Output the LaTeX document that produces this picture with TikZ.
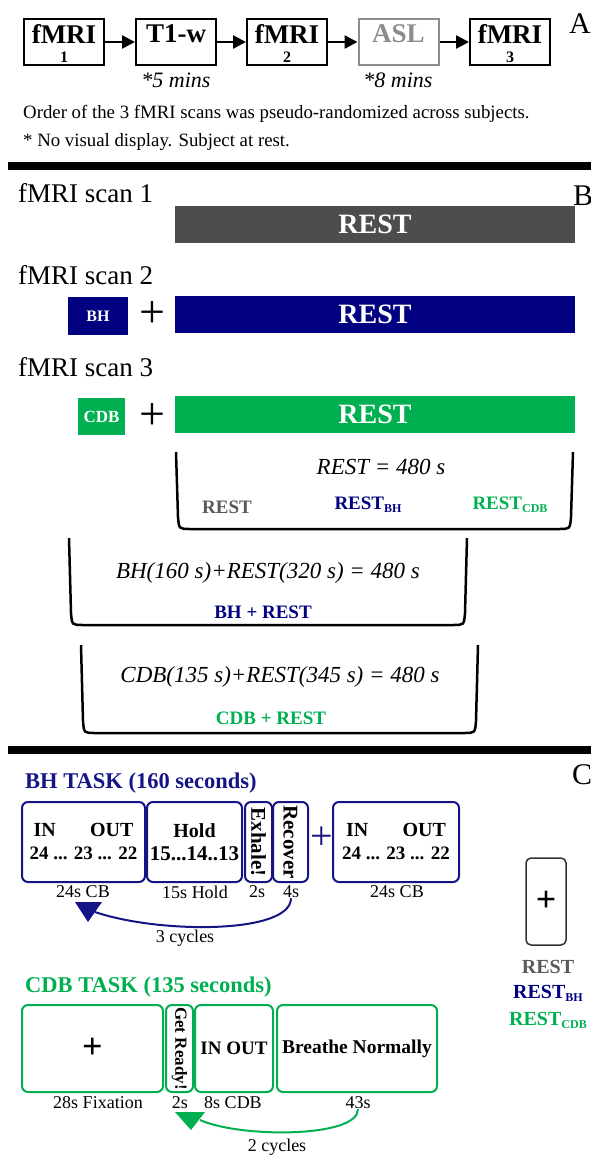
\documentclass[tikz,border=0pt]{standalone}
\usepackage{fontspec}
\setmainfont{Liberation Serif}
\usetikzlibrary{arrows.meta}

\definecolor{restgray}{RGB}{77,77,77}
\definecolor{labgray}{RGB}{89,89,89}
\definecolor{aslgray}{RGB}{140,140,140}
\definecolor{bhblue}{RGB}{0,0,128}
\definecolor{taskblue}{RGB}{20,20,135}
\definecolor{cdbgreen}{RGB}{0,176,80}

\newcommand{\fsz}[1]{\fontsize{#1}{#1}\selectfont}
\newcommand{\restsub}[1]{REST\raisebox{-3pt}{\fsz{12}#1}}

\begin{document}
\begin{tikzpicture}
      [%%%%%%%%%%%%%%%%%%%%%%%%%%%%%%
          x=1pt, y=-1pt,
          scanbox/.style={rectangle,draw=black,line width=2pt,minimum width=80pt,minimum height=46pt,inner sep=0pt},
          boxtitle/.style={font=\fsz{27}\bfseries,inner sep=0pt},
          boxnum/.style={font=\fsz{16}\bfseries,inner sep=0pt},
          flow/.style={line width=2.5pt,-{Triangle[length=13pt,width=13pt]}},
          note/.style={font=\fsz{22}\itshape,inner sep=0pt},
          plaintext/.style={font=\fsz{18.8},anchor=west,inner sep=0pt},
          sepline/.style={line width=8pt},
          panel/.style={font=\fsz{30},inner sep=0pt},
          scanlbl/.style={font=\fsz{27},anchor=west,inner sep=0pt},
          scanbar/.style={rectangle,minimum width=400pt,minimum height=37pt,inner sep=0pt,text=white,font=\fsz{28}\bfseries},
          scantag/.style={rectangle,minimum height=38pt,inner sep=0pt,text=white,font=\fsz{16}\bfseries},
          bigplus/.style={font=\fsz{46},inner sep=0pt},
          brace/.style={line width=2.5pt},
          total/.style={font=\fsz{23}\itshape,inner sep=0pt},
          keylbl/.style={font=\fsz{19}\bfseries,inner sep=0pt},
          tasktitle/.style={font=\fsz{22.5}\bfseries,anchor=west,inner sep=0pt},
          taskbox/.style={rectangle,rounded corners=6pt,line width=2pt,minimum height=80pt,inner sep=0pt,font=\fsz{20}\bfseries,align=center},
          durlbl/.style={font=\fsz{18},inner sep=0pt},
          loopline/.style={line width=2pt}
      ]%%%%%%%%%%%%%%%%%%%%%%%%%%%%%%

  \useasboundingbox (0,0) rectangle (591,1159);

  % A: scan order
  \foreach \nm/\cx/\ttl/\num/\col in {f1/64/fMRI/1/black, t1/176/T1-w//black, f2/287/fMRI/2/black, asl/398.5/ASL//aslgray, f3/510/fMRI/3/black}{
      \node[scanbox,draw=\col] (\nm) at (\cx,42) {};
      \node[boxtitle,text=\col] (\nm-t) at (\cx,34) {\ttl};
      \node[boxnum] (\nm-n) at (\cx,57) {\num};
  }
  \foreach \a/\b in {f1/t1,t1/f2,f2/asl,asl/f3}
      \draw[flow] (\a) -- (\b);

  \node[note] (t1note) at (176,80) {*5 mins};
  \node[note] (aslnote) at (398,80) {*8 mins};
  \node[plaintext] (order) at (23,114) {Order of the 3 fMRI scans was pseudo-randomized across subjects.};
  \node[plaintext] (atrest) at (23,142) {* No visual display. Subject at rest.};
  \node[panel] (pa) at (580,24) {A};
  \draw[sepline] (8,166) -- (591,166);

  % B: scans
  \node[panel] (pb) at (583,196) {B};
  \node[scanlbl] (s1) at (18,193) {fMRI scan 1};
  \node[scanlbl] (s2) at (18,275) {fMRI scan 2};
  \node[scanlbl] (s3) at (18,367) {fMRI scan 3};
  \node[scanbar,fill=restgray] (r1) at (375,224.5) {REST};
  \node[scanbar,fill=bhblue] (r2) at (375,314) {REST};
  \node[scanbar,fill=cdbgreen] (r3) at (375,414.5) {REST};
  \node[scantag,fill=bhblue,minimum width=60pt] (bh) at (98,316) {BH};
  \node[scantag,fill=cdbgreen,minimum width=47pt,minimum height=37pt,font=\fsz{17}\bfseries] (cdb) at (101.5,416.5) {CDB};
  \node[bigplus] (p2) at (152,315) {+};
  \node[bigplus] (p3) at (152,417) {+};

  \foreach \l/\r/\t/\b in {176/573/452/529, 69/467/538/625, 81/478/645/733}
      \draw[brace] (\l,\t) -- (\l+2,\b-12) .. controls (\l+3,\b) .. (\l+14,\b)
          -- (\r-14,\b) .. controls (\r-3,\b) .. (\r-2,\b-12) -- (\r,\t);

  \node[total] (tot1) at (381,467) {REST = 480 s};
  \node[keylbl,text=labgray] (k1) at (227,507) {REST};
  \node[keylbl,text=bhblue] (k2) at (368,505) {\restsub{BH}};
  \node[keylbl,text=cdbgreen] (k3) at (510,505) {\restsub{CDB}};
  \node[total] (tot2) at (268,573) {BH(160 s)+REST(320 s) = 480 s};
  \node[keylbl,text=bhblue] (k4) at (263,612) {BH + REST};
  \node[total] (tot3) at (280,677) {CDB(135 s)+REST(345 s) = 480 s};
  \node[keylbl,text=cdbgreen] (k5) at (271,718) {CDB + REST};
  \draw[sepline] (8,750) -- (591,750);

  % C: tasks
  \node[panel] (pc) at (582,775) {C};
  \node[tasktitle,text=taskblue] (bhtitle) at (25,783) {BH TASK (160 seconds)};
  \node[taskbox,draw=taskblue,minimum width=123pt] (b1) at (83.5,842) {\makebox[100pt]{IN\hfill OUT}\\[3pt]\fsz{19}24 ... 23 ... 22};
  \node[taskbox,draw=taskblue,minimum width=95pt] (b2) at (194.5,842) {Hold\\[3pt]\fsz{21}15...14..13};
  \node[taskbox,draw=taskblue,rotate=-90,minimum width=80pt,minimum height=27pt,font=\fsz{21}\bfseries] (b3) at (258.5,842) {Exhale!};
  \node[taskbox,draw=taskblue,rotate=-90,minimum width=80pt,minimum height=35pt,font=\fsz{21}\bfseries] (b4) at (290.5,842) {Recover};
  \node[bigplus,text=taskblue,font=\fsz{40}] (bhplus) at (322,838) {+};
  \node[taskbox,draw=taskblue,minimum width=126pt] (b5) at (396,842) {\makebox[100pt]{IN\hfill OUT}\\[3pt]\fsz{19}24 ... 23 ... 22};

  \foreach \nm/\cx/\txt in {c1/83/24s CB, c2/195/15s Hold, c3/257/2s, c4/291/4s, c5/397/24s CB}
      \node[durlbl] (\nm) at (\cx,892) {\txt};

  \fill[taskblue] (75,902) -- (102,902) -- (88,922) -- cycle;
  \coordinate (bhtip) at (95,912);
  \draw[loopline,taskblue] (c4.south) .. controls (291,934) and (160,934) .. (bhtip);
  \node[durlbl] (bhcyc) at (185,938) {3 cycles};

  \node[tasktitle,text=cdbgreen] (cdbtitle) at (25,987) {CDB TASK (135 seconds)};
  \node[taskbox,draw=cdbgreen,minimum width=141pt,minimum height=87pt,font=\fsz{36}\bfseries] (g1) at (92.5,1048.5) {+};
  \node[taskbox,draw=cdbgreen,rotate=-90,minimum width=87pt,minimum height=27pt,font=\fsz{17}\bfseries] (g2) at (179.5,1048.5) {Get Ready!};
  \node[taskbox,draw=cdbgreen,minimum width=78pt,minimum height=87pt,font=\fsz{19}\bfseries] (g3) at (234,1048.5) {IN OUT};
  \node[taskbox,draw=cdbgreen,minimum width=160pt,minimum height=87pt,font=\fsz{19.5}\bfseries] (g4) at (357,1048.5) {Breathe Normally};

  \foreach \nm/\cx/\txt in {d1/98/28s Fixation, d2/180/2s, d3/233/8s CDB, d4/358/43s}
      \node[durlbl] (\nm) at (\cx,1103) {\txt};

  \fill[cdbgreen] (175,1112) -- (205,1112) -- (191,1130) -- cycle;
  \coordinate (cdbtip) at (200,1120);
  \draw[loopline,cdbgreen] (d4.south) .. controls (358,1138) and (240,1138) .. (cdbtip);
  \node[durlbl] (cdbcyc) at (277,1147) {2 cycles};

  % fixation screen
  \node[rectangle,rounded corners=5pt,draw=black!80,line width=1.5pt,minimum width=40pt,minimum height=87pt,inner sep=0pt,font=\fsz{36}\bfseries] (screen) at (546,901.5) {+};
  \node[keylbl,font=\fsz{20}\bfseries,text=labgray] (sr1) at (548,967) {REST};
  \node[keylbl,font=\fsz{20}\bfseries,text=bhblue] (sr2) at (548,993) {\restsub{BH}};
  \node[keylbl,font=\fsz{20}\bfseries,text=cdbgreen] (sr3) at (548,1020) {\restsub{CDB}};

\end{tikzpicture}
\end{document}
